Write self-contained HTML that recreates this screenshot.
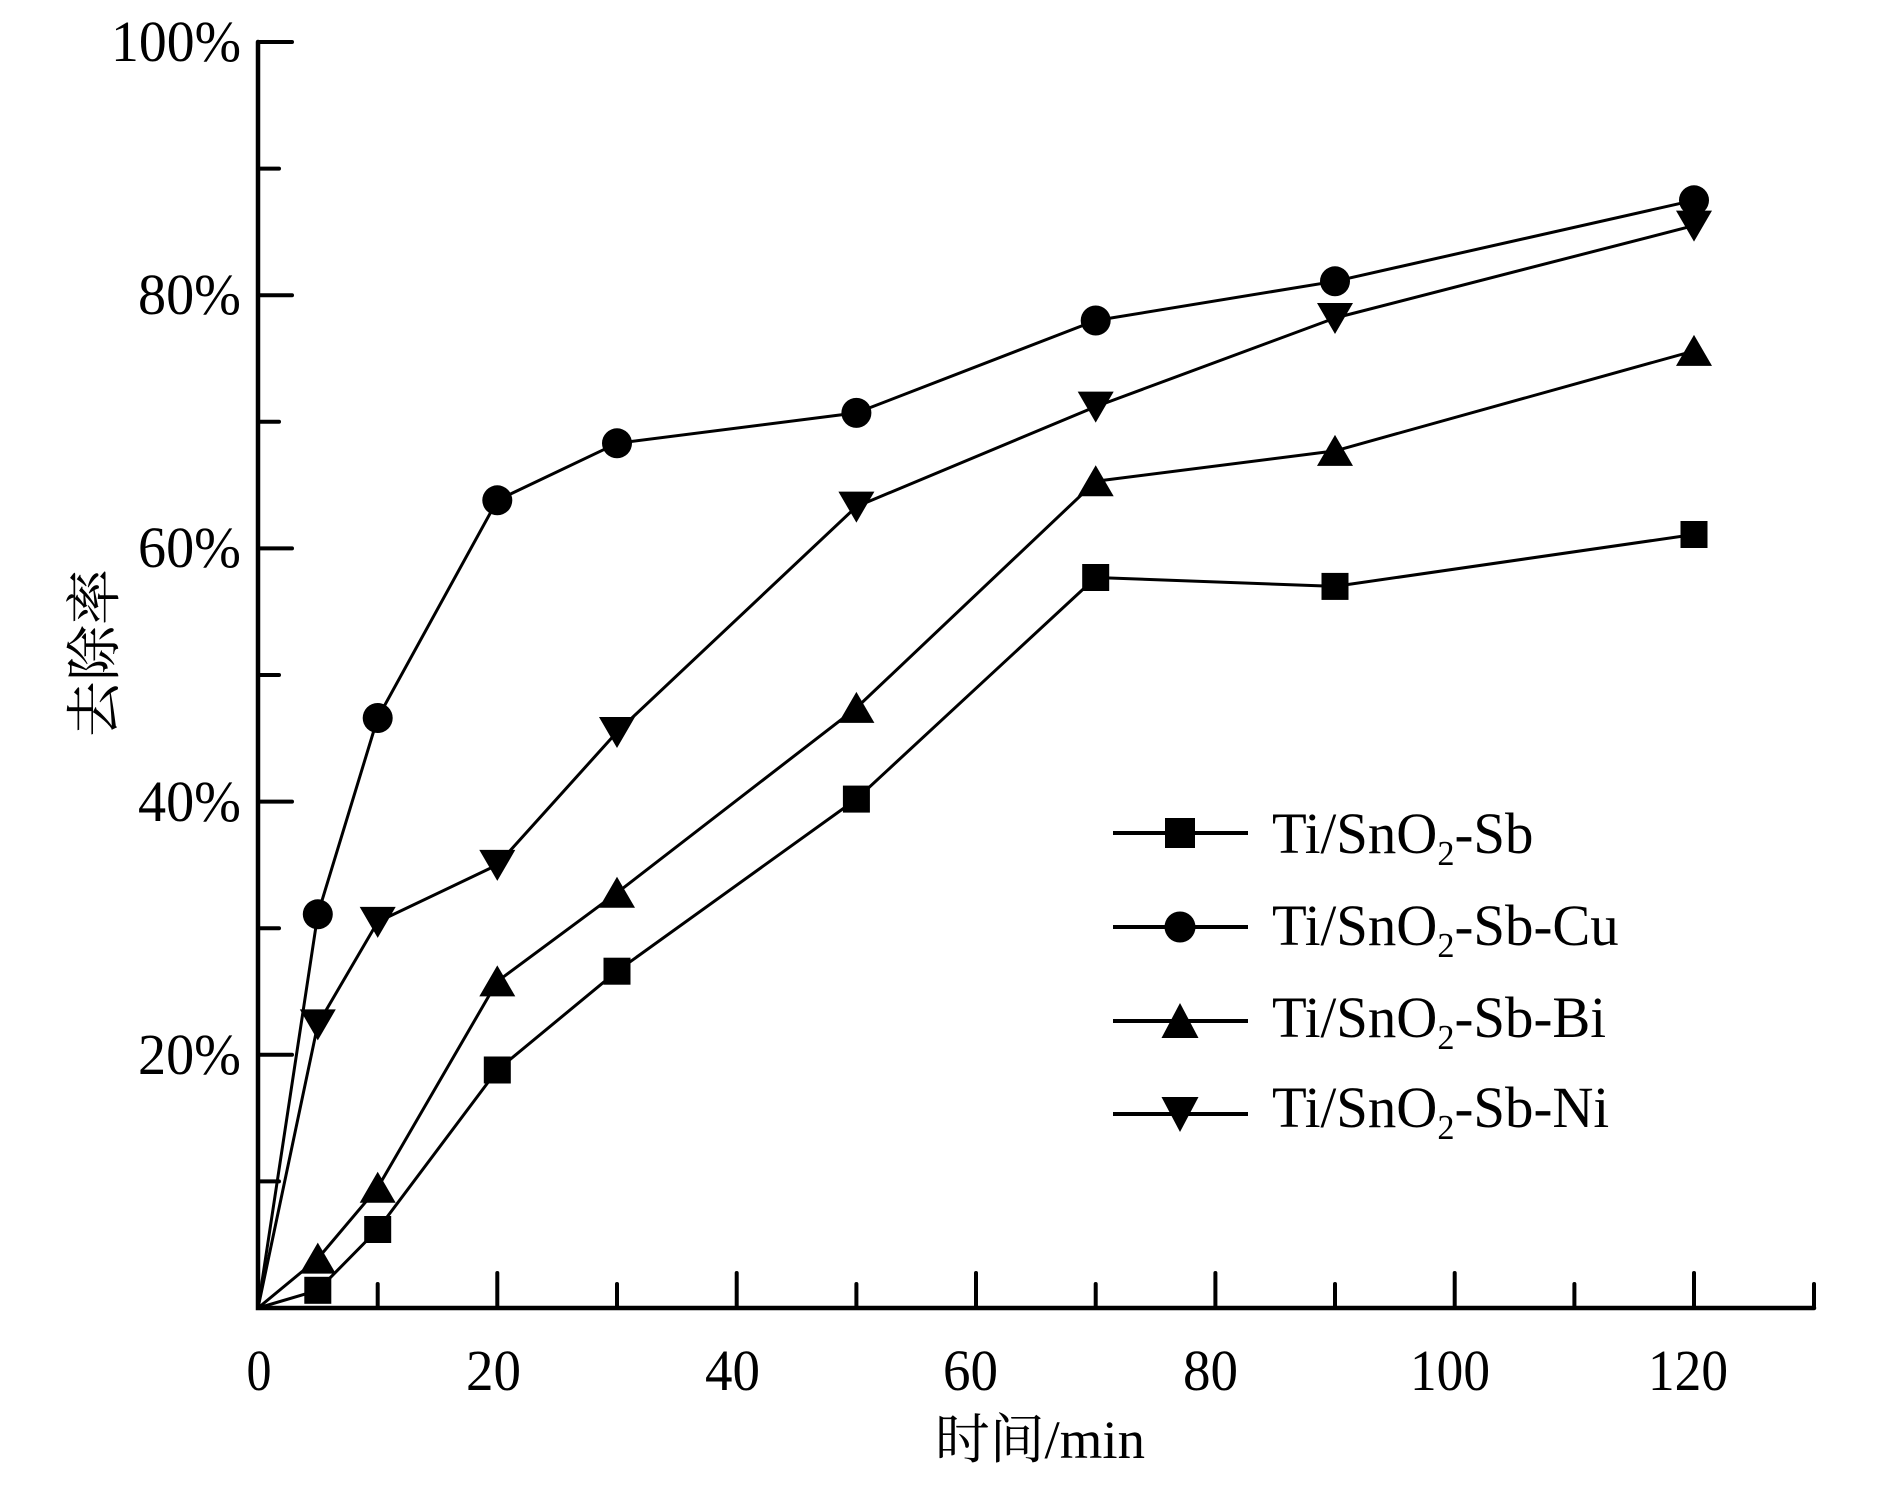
<!DOCTYPE html>
<html><head><meta charset="utf-8"><style>
html,body{margin:0;padding:0;background:#fff;}
svg{display:block;}
text{font-family:"Liberation Serif","Noto Serif CJK SC",serif;fill:#000;}
</style></head><body>
<svg width="1887" height="1492" viewBox="0 0 1887 1492" xmlns="http://www.w3.org/2000/svg">
<rect width="1887" height="1492" fill="#fff"/>
<!-- axes -->
<g stroke="#000" stroke-linecap="round" fill="none">
<path d="M258,42 L258,1308 L1814,1308" stroke-width="4.5" stroke-linejoin="miter"/>
<g stroke-width="4">
<line x1="258" y1="42" x2="292" y2="42"/>
<line x1="258" y1="295.2" x2="292" y2="295.2"/>
<line x1="258" y1="548.4" x2="292" y2="548.4"/>
<line x1="258" y1="801.6" x2="292" y2="801.6"/>
<line x1="258" y1="1054.8" x2="292" y2="1054.8"/>
<line x1="258" y1="168.6" x2="279" y2="168.6"/>
<line x1="258" y1="421.8" x2="279" y2="421.8"/>
<line x1="258" y1="675" x2="279" y2="675"/>
<line x1="258" y1="928.2" x2="279" y2="928.2"/>
<line x1="258" y1="1181.4" x2="279" y2="1181.4"/>
<line x1="497.3" y1="1308" x2="497.3" y2="1273"/>
<line x1="736.7" y1="1308" x2="736.7" y2="1273"/>
<line x1="976" y1="1308" x2="976" y2="1273"/>
<line x1="1215.4" y1="1308" x2="1215.4" y2="1273"/>
<line x1="1454.7" y1="1308" x2="1454.7" y2="1273"/>
<line x1="1694" y1="1308" x2="1694" y2="1273"/>
<line x1="377.7" y1="1308" x2="377.7" y2="1284"/>
<line x1="617" y1="1308" x2="617" y2="1284"/>
<line x1="856.4" y1="1308" x2="856.4" y2="1284"/>
<line x1="1095.7" y1="1308" x2="1095.7" y2="1284"/>
<line x1="1335" y1="1308" x2="1335" y2="1284"/>
<line x1="1574.4" y1="1308" x2="1574.4" y2="1284"/>
<line x1="1814" y1="1308" x2="1814" y2="1284"/>
</g>
</g>
<!-- y tick labels -->
<g font-size="58" text-anchor="end">
<text x="241" y="61" textLength="130" lengthAdjust="spacingAndGlyphs">100%</text>
<text x="241" y="314" textLength="103" lengthAdjust="spacingAndGlyphs">80%</text>
<text x="241" y="567" textLength="103" lengthAdjust="spacingAndGlyphs">60%</text>
<text x="241" y="821" textLength="103" lengthAdjust="spacingAndGlyphs">40%</text>
<text x="241" y="1074" textLength="103" lengthAdjust="spacingAndGlyphs">20%</text>
</g>
<!-- x tick labels -->
<g font-size="58">
<text x="246.5" y="1390" textLength="25" lengthAdjust="spacingAndGlyphs">0</text>
<text x="466" y="1390" textLength="55" lengthAdjust="spacingAndGlyphs">20</text>
<text x="705" y="1390" textLength="55" lengthAdjust="spacingAndGlyphs">40</text>
<text x="943" y="1390" textLength="55" lengthAdjust="spacingAndGlyphs">60</text>
<text x="1183" y="1390" textLength="55" lengthAdjust="spacingAndGlyphs">80</text>
<text x="1410" y="1390" textLength="80" lengthAdjust="spacingAndGlyphs">100</text>
<text x="1648" y="1390" textLength="80" lengthAdjust="spacingAndGlyphs">120</text>
</g>
<!-- axis titles -->
<text x="935" y="1458" font-size="54" textLength="210" lengthAdjust="spacingAndGlyphs">时间/min</text>
<text transform="translate(114,653) rotate(-90)" font-size="56" text-anchor="middle">去除率</text>

<!-- series lines -->
<g fill="none" stroke="#000" stroke-width="3" stroke-linejoin="round">
<polyline points="258,1308 317.8,1290.3 377.7,1229.5 497.3,1070 617,971.2 856.4,799.1 1095.7,577.5 1335,586.4 1694,534.5"/>
<polyline points="258,1308 317.8,914.3 377.7,718 497.3,500.3 617,443.3 856.4,412.9 1095.7,320.5 1335,281.3 1694,200.3"/>
<polyline points="258,1308 317.8,1258.6 377.7,1187.7 497.3,981.4 617,892.8 856.4,707.9 1095.7,481.3 1335,450.9 1694,350.9"/>
<polyline points="258,1308 317.8,1024.4 377.7,921.9 497.3,864.9 617,732 856.4,506.6 1095.7,406.6 1335,318 1694,225.6"/>
</g>
<!-- markers -->
<defs>
<rect id="sq" x="-13.5" y="-13.5" width="27" height="27"/>
<circle id="ci" r="15"/>
<path id="tu" d="M0,-16 L18,15 L-18,15 Z"/>
<path id="td" d="M0,16 L18,-15 L-18,-15 Z"/>
</defs>
<g fill="#000">
<use href="#sq" x="317.8" y="1290.3"/><use href="#sq" x="377.7" y="1229.5"/><use href="#sq" x="497.3" y="1070"/><use href="#sq" x="617" y="971.2"/><use href="#sq" x="856.4" y="799.1"/><use href="#sq" x="1095.7" y="577.5"/><use href="#sq" x="1335" y="586.4"/><use href="#sq" x="1694" y="534.5"/>
<use href="#ci" x="317.8" y="914.3"/><use href="#ci" x="377.7" y="718"/><use href="#ci" x="497.3" y="500.3"/><use href="#ci" x="617" y="443.3"/><use href="#ci" x="856.4" y="412.9"/><use href="#ci" x="1095.7" y="320.5"/><use href="#ci" x="1335" y="281.3"/><use href="#ci" x="1694" y="200.3"/>
<use href="#tu" x="317.8" y="1258.6"/><use href="#tu" x="377.7" y="1187.7"/><use href="#tu" x="497.3" y="981.4"/><use href="#tu" x="617" y="892.8"/><use href="#tu" x="856.4" y="707.9"/><use href="#tu" x="1095.7" y="481.3"/><use href="#tu" x="1335" y="450.9"/><use href="#tu" x="1694" y="350.9"/>
<use href="#td" x="317.8" y="1024.4"/><use href="#td" x="377.7" y="921.9"/><use href="#td" x="497.3" y="864.9"/><use href="#td" x="617" y="732"/><use href="#td" x="856.4" y="506.6"/><use href="#td" x="1095.7" y="406.6"/><use href="#td" x="1335" y="318"/><use href="#td" x="1694" y="225.6"/>
</g>
<!-- legend -->
<g stroke="#000" stroke-width="4">
<line x1="1113" y1="833" x2="1248" y2="833"/>
<line x1="1113" y1="927" x2="1248" y2="927"/>
<line x1="1113" y1="1021" x2="1248" y2="1021"/>
<line x1="1113" y1="1114" x2="1248" y2="1114"/>
</g>
<g fill="#000">
<rect x="1165" y="818" width="30" height="30"/>
<circle cx="1180" cy="927" r="15.5"/>
<path d="M1180,1003 L1198.5,1038 L1161.5,1038 Z"/>
<path d="M1180,1132 L1198.5,1097 L1161.5,1097 Z"/>
</g>
<g transform="translate(1272,0) scale(0.98,1)" font-size="58">
<text x="0" y="853">Ti/SnO<tspan dy="12" font-size="35">2</tspan><tspan dy="-12">-Sb</tspan></text>
<text x="0" y="945">Ti/SnO<tspan dy="12" font-size="35">2</tspan><tspan dy="-12">-Sb-Cu</tspan></text>
<text x="0" y="1037">Ti/SnO<tspan dy="12" font-size="35">2</tspan><tspan dy="-12">-Sb-Bi</tspan></text>
<text x="0" y="1127">Ti/SnO<tspan dy="12" font-size="35">2</tspan><tspan dy="-12">-Sb-Ni</tspan></text>
</g>
</svg>
</body></html>
